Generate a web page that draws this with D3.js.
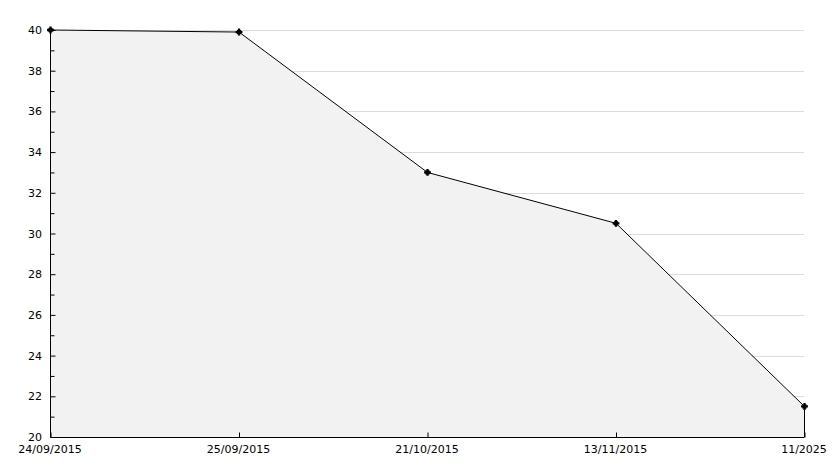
<!DOCTYPE html>
<html>
<head>
<meta charset="utf-8">
<script src="https://cdn.jsdelivr.net/npm/d3@7"></script>
<style>
  body { margin: 0; background: #fff; }
  text { font-family: "DejaVu Sans", sans-serif; font-size: 11px; fill: #000; }
</style>
</head>
<body>
<div id="chart"></div>
<script>
// chart values
const dates = ["24/09/2015", "25/09/2015", "21/10/2015", "13/11/2015", "11/2025"];
const values = [40, 39.9, 33, 30.5, 21.5];
const yTicks = [20, 22, 24, 26, 28, 30, 32, 34, 36, 38, 40];
const yMinor = [21, 23, 25, 27, 29, 31, 33, 35, 37, 39];

const W = 834, H = 468;
const margin = {top: 30, right: 30, bottom: 31, left: 50},
    width = W - margin.left - margin.right,
    height = H - margin.top - margin.bottom;

const svg = d3.select("#chart")
  .append("svg")
    .attr("width", W)
    .attr("height", H)
  .append("g")
    .attr("transform", `translate(${margin.left},${margin.top})`);

const x = d3.scalePoint()
  .domain(dates)
  .range([0, width]);

const y = d3.scaleLinear()
  .domain([20, 40])
  .range([height, 0]);

// gridlines
svg.append("g")
  .selectAll("line")
  .data(yTicks.slice(1))
  .join("line")
    .attr("x1", 0)
    .attr("x2", width)
    .attr("y1", d => Math.round(y(d)) + 0.5)
    .attr("y2", d => Math.round(y(d)) + 0.5)
    .attr("stroke", "#dcdcdc");

const data = dates.map((d, i) => ({date: d, value: values[i]}));

// area under the line
svg.append("path")
  .datum(data)
  .attr("fill", "#f2f2f2")
  .attr("d", d3.area()
    .x(d => x(d.date))
    .y0(height)
    .y1(d => y(d.value)));

svg.append("path")
  .datum(data)
  .attr("fill", "none")
  .attr("stroke", "#000")
  .attr("stroke-width", 1)
  .attr("d", d3.line()
    .x(d => x(d.date) + 0.5)
    .y(d => y(d.value)));

// right edge of the area
svg.append("line")
  .attr("x1", x(dates[dates.length - 1]) + 0.5)
  .attr("x2", x(dates[dates.length - 1]) + 0.5)
  .attr("y1", y(values[values.length - 1]))
  .attr("y2", height)
  .attr("stroke", "#000");

// Y axis, ticks pointing inward
const yAxis = svg.append("g")
  .attr("transform", "translate(0.5,0)")
  .call(d3.axisRight(y).tickValues(yTicks).tickSize(5).tickFormat(""));
yAxis.select(".domain").attr("d", `M0,0V${height}`);
svg.append("g")
  .attr("transform", "translate(0.5,0)")
  .call(d3.axisRight(y).tickValues(yMinor).tickSize(4).tickFormat(""))
  .select(".domain").remove();

svg.append("g")
  .selectAll("text")
  .data(yTicks)
  .join("text")
    .attr("x", -8)
    .attr("y", d => y(d) + 4)
    .attr("text-anchor", "end")
    .text(d => d);

// X axis, ticks pointing up
const xAxis = svg.append("g")
  .attr("transform", `translate(0.5,${height + 0.5})`)
  .call(d3.axisTop(x).tickSize(5).tickFormat(""));
xAxis.select(".domain").attr("d", `M0,0H${width}`);

svg.append("g")
  .selectAll("text")
  .data(dates)
  .join("text")
    .attr("x", d => x(d))
    .attr("y", height + 16)
    .attr("text-anchor", "middle")
    .text(d => d);

// point markers: cross plus square gives a small filled blob
const markers = svg.append("g")
  .selectAll("g")
  .data(data)
  .join("g")
    .attr("transform", d => `translate(${x(d.date) + 0.5},${y(d.value)})`);
markers.append("path")
  .attr("d", d3.symbol().type(d3.symbolCross).size(26))
  .attr("fill", "#000");
markers.append("path")
  .attr("d", d3.symbol().type(d3.symbolSquare).size(18))
  .attr("fill", "#000");
</script>
</body>
</html>
